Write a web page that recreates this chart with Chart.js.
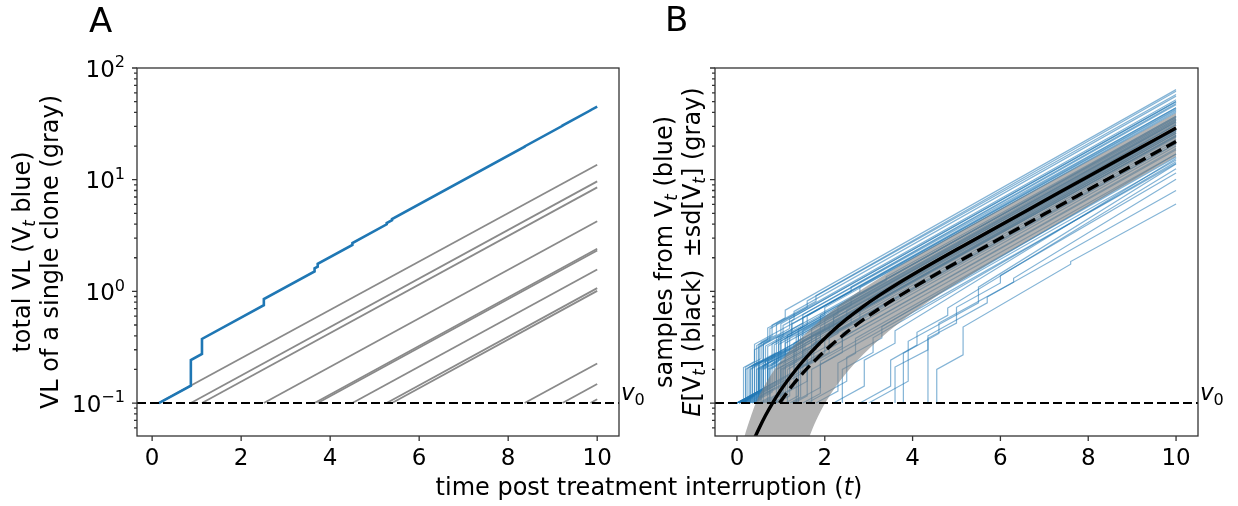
<!DOCTYPE html>
<html>
<head>
<meta charset="utf-8">
<script src="https://cdn.jsdelivr.net/npm/chart.js@4.4.1/dist/chart.umd.min.js"></script>
<style>
  html, body { margin: 0; padding: 0; background: #fff; }
  #wrap { position: relative; width: 1238px; height: 506px; }
  #wrap canvas { position: absolute; left: 0; top: 0; }
</style>
</head>
<body>
<div id="wrap">
  <canvas id="chartA" width="1238" height="506"></canvas>
  <canvas id="chartB" width="1238" height="506"></canvas>
</div>
<script>
// axes
const v0 = 0.1;
const tEnd = 10;
const yMin = 0.0507, yMax = 100;
const xRangeA = [-0.34, 10.49];
const xRangeB = [-0.5, 10.5];
const xTicks = [0, 2, 4, 6, 8, 10];
const yTickExps = [-1, 0, 1, 2];

// panel A: single clones (gray), start time at v0 and value at t = 10
const cloneStarts = [0.15, 0.87, 1.12, 2.51, 3.65, 3.72, 4.50, 5.27, 5.39, 8.37, 9.22, 9.85];
const cloneEnds = [13.6, 9.66, 8.53, 4.24, 2.41, 2.32, 1.57, 1.07, 1.01, 0.226, 0.148, 0.108];

// panel A: total VL (blue step line)
const totalTimes = [0.15, 0.87, 0.87, 1.12, 1.12, 2.51, 2.51, 3.65, 3.65, 3.72, 3.72, 4.50, 4.50,
  5.27, 5.27, 5.39, 5.39, 8.37, 8.37, 9.22, 9.22, 9.85, 9.85, 10];
const totalValues = [0.1, 0.143, 0.243, 0.275, 0.375, 0.752, 0.852, 1.508, 1.608, 1.665, 1.765, 2.609, 2.709,
  3.985, 4.085, 4.338, 4.438, 19.74, 19.84, 30.37, 30.47, 41.78, 41.88, 45.15];

// panel B: E[V_t] (solid) and the dashed curve
const meanTimes = [0.38, 0.5, 0.65, 0.81, 1.0, 1.35, 1.7, 2.11, 2.5, 2.87, 3.25, 3.63, 4.39, 5.15, 6, 7, 8, 9, 10];
const meanValues = [0.0466, 0.059, 0.0773, 0.1, 0.1312, 0.201, 0.289, 0.4175, 0.5665, 0.7316, 0.9267, 1.153,
  1.73, 2.552, 3.917, 6.47, 10.69, 17.6, 29.0];
const dashTimes = [0.97, 1.2, 1.5, 1.8, 2.11, 2.5, 2.87, 3.25, 3.63, 4.39, 5.15, 6, 7, 8, 9, 10];
const dashValues = [0.1, 0.1338, 0.1851, 0.2457, 0.32, 0.4303, 0.5557, 0.704, 0.876, 1.322, 1.949, 2.987,
  4.92, 8.11, 13.37, 22.0];

// panel B: E +- sd band
const bandTimes = [0.1, 0.17, 0.3, 0.43, 0.6, 0.81, 1.0, 1.35, 1.5, 1.65, 1.8, 2.03, 2.5, 3.25, 4.09, 5, 6, 7, 8, 9, 10];
const bandUpper = [0.038, 0.05, 0.0724, 0.1, 0.1368, 0.1882, 0.2383, 0.3454, 0.395, 0.452, 0.508, 0.6086, 0.842,
  1.319, 2.07, 3.30, 5.45, 8.97, 14.7, 24.1, 39.6];
const bandLower = [0.02, 0.02, 0.02, 0.02, 0.02, 0.02, 0.02, 0.0224, 0.0342, 0.05, 0.0694, 0.1033, 0.1873,
  0.3737, 0.6808, 1.174, 2.04, 3.46, 5.81, 9.69, 16.1];

// panel B: sample paths of V_t, [t, value] vertices
const samplePaths = [
  [[0.05,0.1],[0.35,0.116],[0.35,0.216],[0.6,0.245],[0.6,0.345],[1.2,0.466],[1.2,0.566],[10,50]],
  [[0.08,0.1],[0.5,0.123],[0.5,0.223],[1.0,0.286],[1.0,0.386],[10,36]],
  [[0.1,0.1],[0.3,0.11],[0.3,0.21],[0.45,0.227],[0.45,0.327],[0.9,0.409],[0.9,0.509],[1.6,0.722],[1.6,0.822],[10,58]],
  [[0.15,0.1],[0.9,0.146],[0.9,0.246],[10,25]],
  [[0.05,0.1],[0.45,0.122],[0.45,0.222],[1.4,0.357],[1.4,0.457],[2.0,0.617],[2.0,0.717],[10,41]],
  [[0.2,0.1],[0.7,0.128],[0.7,0.228],[1.1,0.279],[1.1,0.379],[10,33]],
  [[0.1,0.1],[0.4,0.116],[0.4,0.216],[10,28]],
  [[0.3,0.1],[0.6,0.116],[0.6,0.216],[0.8,0.239],[0.8,0.339],[1.5,0.481],[1.5,0.581],[10,44]],
  [[0.05,0.1],[1.3,0.187],[1.3,0.287],[10,24]],
  [[0.4,0.1],[0.55,0.108],[0.55,0.208],[1.0,0.26],[1.0,0.36],[1.25,0.408],[1.25,0.508],[10,42]],
  [[0.12,0.1],[0.25,0.107],[0.25,0.207],[0.5,0.235],[0.5,0.335],[0.7,0.37],[0.7,0.47],[1.8,0.815],[1.8,0.915],[10,62]],
  [[0.6,0.1],[1.05,0.125],[1.05,0.225],[1.7,0.311],[1.7,0.411],[10,28]],
  [[0.05,0.1],[0.6,0.132],[0.6,0.232],[2.2,0.516],[2.2,0.616],[10,32]],
  [[0.9,0.1],[1.2,0.116],[1.2,0.216],[1.5,0.251],[1.5,0.351],[10,26]],
  [[0.25,0.1],[0.85,0.135],[0.85,0.235],[1.35,0.302],[1.35,0.402],[2.6,0.751],[2.6,0.851],[10,36]],
  [[1.1,0.1],[1.4,0.116],[1.4,0.216],[10,17]],
  [[0.5,0.1],[0.75,0.113],[0.75,0.213],[0.95,0.235],[0.95,0.335],[10,31]],
  [[1.3,0.1],[1.6,0.116],[1.6,0.216],[2.4,0.322],[2.4,0.422],[10,20]],
  [[0.7,0.1],[1.6,0.157],[1.6,0.257],[10,19]],
  [[0.35,0.1],[0.5,0.108],[0.5,0.208],[0.65,0.224],[0.65,0.324],[1.05,0.396],[1.05,0.496],[1.3,0.562],[1.3,0.662],[10,56]],
  [[1.5,0.1],[1.9,0.122],[1.9,0.222],[10,14]],
  [[0.8,0.1],[1.0,0.11],[1.0,0.21],[1.9,0.33],[1.9,0.43],[3.0,0.745],[3.0,0.845],[10,29]],
  [[0.15,0.1],[1.5,0.196],[1.5,0.296],[2.1,0.4],[2.1,0.5],[10,27]],
  [[1.2,0.1],[1.45,0.113],[1.45,0.213],[2.0,0.281],[2.0,0.381],[2.8,0.568],[2.8,0.668],[10,26]],
  [[1.8,0.1],[2.3,0.128],[2.3,0.228],[2.7,0.279],[2.7,0.379],[10,16]],
  [[0.0,0.1],[0.9,0.157],[0.9,0.257],[1.5,0.347],[1.5,0.447],[10,33]],
  [[0.0,0.1],[0.2,0.11],[0.2,0.21],[0.55,0.251],[0.55,0.351],[0.8,0.398],[0.8,0.498],[1.1,0.579],[1.1,0.679],[10,64]],
  [[0.45,0.1],[0.45,0.2],[1.2,0.29],[1.2,0.39],[10,34]],
  [[0.6,0.1],[0.6,0.2],[1.4,0.3],[1.4,0.4],[2.3,0.63],[2.3,0.73],[10,37]],
  [[0.75,0.1],[0.75,0.2],[10,22]],
  [[0.9,0.1],[0.9,0.2],[1.3,0.244],[1.3,0.344],[10,29]],
  [[1.0,0.1],[1.0,0.2],[1.8,0.3],[1.8,0.4],[10,26]],
  [[0.3,0.1],[0.3,0.2],[0.5,0.221],[0.5,0.321],[1.0,0.412],[1.0,0.512],[10,50]],
  [[0.55,0.1],[0.55,0.2],[0.85,0.232],[0.85,0.332],[10,35]],
  [[1.15,0.1],[1.15,0.2],[1.55,0.244],[1.55,0.344],[2.2,0.475],[2.2,0.575],[10,31]],
  [[0.05,0.1],[0.7,0.138],[0.7,0.238],[2.5,0.584],[2.5,0.684],[10,31]],
  [[0.1,0.1],[1.0,0.157],[1.0,0.257],[1.7,0.365],[1.7,0.465],[10,33]],
  [[0.2,0.1],[0.5,0.116],[0.5,0.216],[2.0,0.458],[2.0,0.558],[10,34]],
  [[0.0,0.1],[1.7,0.234],[1.7,0.334],[10,23]],
  [[0.65,0.1],[1.3,0.138],[1.3,0.238],[1.5,0.263],[1.5,0.363],[10,27]],
  [[1.4,0.1],[1.4,0.2],[2.1,0.284],[2.1,0.384],[10,21]],
  [[0.15,0.1],[0.35,0.11],[0.35,0.21],[0.6,0.238],[0.6,0.338],[0.75,0.364],[0.75,0.464],[10,52]],
  [[0.4,0.1],[0.4,0.3],[1.5,0.52],[1.5,0.62],[10,47]],
  [[1.7,0.1],[1.7,0.2],[2.4,0.284],[2.4,0.384],[10,18.5]],
  [[0.25,0.1],[1.6,0.196],[1.6,0.296],[2.3,0.42],[2.3,0.52],[10,27]],
  [[1.25,0.1],[1.9,0.138],[1.9,0.238],[10,15]],
  [[0.5,0.1],[0.5,0.2],[0.7,0.221],[0.7,0.321],[1.6,0.503],[1.6,0.603],[10,43]],
  [[2.4,0.1],[2.4,0.2],[3.1,0.284],[3.1,0.384],[10,14.5]],
  [[0.0,0.1],[0.15,0.108],[0.15,0.208],[0.4,0.236],[0.4,0.336],[2.6,1.0],[2.6,1.1],[10,48]],
  [[0.85,0.1],[1.1,0.113],[1.1,0.213],[1.8,0.302],[1.8,0.402],[10,25]],
  [[0.2,0.1],[0.2,0.2],[0.9,0.283],[0.9,0.383],[2.8,0.989],[2.8,1.089],[10,40]],
  [[0.35,0.1],[0.8,0.125],[0.8,0.225],[1.9,0.389],[1.9,0.489],[10,28]],
  [[0.0,0.1],[0.65,0.138],[0.65,0.238],[1.15,0.306],[1.15,0.406],[3.4,1.25],[3.4,1.35],[10,37]],
  [[0.7,0.1],[0.7,0.2],[1.1,0.244],[1.1,0.344],[1.9,0.513],[1.9,0.613],[10,35]],
  [[0.1,0.1],[0.7,0.135],[0.7,0.235],[10,24.5]],
  [[1.05,0.1],[1.05,0.2],[1.35,0.232],[1.35,0.332],[3.2,0.837],[3.2,0.937],[10,28]],
  [[0.3,0.1],[1.1,0.149],[1.1,0.249],[1.45,0.296],[1.45,0.396],[10,28.5]],
  [[0.55,0.1],[0.95,0.122],[0.95,0.222],[2.6,0.506],[2.6,0.606],[10,24.5]],
  [[0.0,0.1],[0.5,0.128],[0.5,0.228],[0.95,0.285],[0.95,0.385],[1.25,0.447],[1.25,0.547],[10,44]],
  [[1.35,0.1],[1.35,0.2],[1.75,0.244],[1.75,0.344],[10,21]],
  [[4.55,0.1],[4.55,0.2],[5.15,0.27],[5.15,0.48],[7.6,1.75],[7.6,1.85],[10,6.05]],
  [[3.6,0.1],[3.6,0.21],[4.35,0.3],[4.35,0.4],[5.7,0.79],[5.7,0.89],[10,8]],
  [[3.79,0.1],[3.79,0.28],[4.6,0.42],[4.6,0.52],[6.3,1.21],[6.3,1.31],[10,10.1]],
  [[4.35,0.1],[4.35,0.38],[5.0,0.52],[5.0,0.72],[6.0,1.19],[6.0,1.39],[10,11.5]],
  [[2.8,0.1],[3.5,0.142],[3.5,0.242],[4.1,0.33],[4.1,0.43],[4.8,0.61],[4.8,0.71],[10,12.5]],
  [[3.0,0.1],[3.9,0.157],[3.9,0.357],[5.5,0.79],[5.5,1.09],[10,13.8]],
  [[2.2,0.1],[2.9,0.142],[2.9,0.242],[3.6,0.343],[3.6,0.443],[10,15.5]],
  [[1.6,0.1],[2.5,0.157],[2.5,0.257],[3.3,0.383],[3.3,0.483],[10,17]]
];

// texts
const titleA = [
  [{t: 'total VL (V'}, {t: 't', sub: true, it: true}, {t: ' blue)'}],
  [{t: 'VL of a single clone (gray)'}]
];
const titleB = [
  [{t: 'samples from V'}, {t: 't', sub: true, it: true}, {t: ' (blue)'}],
  [{t: 'E', it: true}, {t: '[V'}, {t: 't', sub: true, it: true}, {t: '] (black) \u2009\u00b1sd[V'},
   {t: 't', sub: true, it: true}, {t: '] (gray)'}]
];
const xTitle = [{t: 'time post treatment interruption ('}, {t: 't', it: true}, {t: ')'}];
const v0Label = [{t: 'v', it: true}, {t: '0', sub: true}];

const FONT = '"DejaVu Sans", "Liberation Sans", sans-serif';

function segFont(s, size) {
  const sz = (s.sub || s.sup) ? size * 0.7 : size;
  return (s.it ? 'italic ' : '') + sz.toFixed(1) + 'px ' + FONT;
}

function drawRich(ctx, segs, x, y, size, align) {
  let w = 0;
  segs.forEach(s => { ctx.font = segFont(s, size); w += ctx.measureText(s.t).width; });
  let cx = align === 'center' ? x - w / 2 : (align === 'right' ? x - w : x);
  ctx.textAlign = 'left';
  ctx.textBaseline = 'alphabetic';
  segs.forEach(s => {
    ctx.font = segFont(s, size);
    const dy = s.sub ? size * 0.22 : (s.sup ? -size * 0.4 : 0);
    ctx.fillText(s.t, cx, y + dy);
    cx += ctx.measureText(s.t).width;
  });
}

const panelDecor = {
  A: {letter: 'A', letterX: 89, letterY: 32, title: titleA, titleX: [30, 58], yLabels: true, xTitle: true},
  B: {letter: 'B', letterX: 665, letterY: 31, title: titleB, titleX: [672, 700], yLabels: false, xTitle: false}
};

// frame, ticks and all texts, placed through the chart scales
const decorPlugin = {
  id: 'decor',
  afterDraw(chart, args, opts) {
    const d = panelDecor[opts.panel];
    const ctx = chart.ctx;
    const a = chart.chartArea;
    const xs = chart.scales.x, ys = chart.scales.y;
    ctx.save();

    ctx.strokeStyle = '#333';
    ctx.lineWidth = 1.3;
    ctx.strokeRect(a.left, a.top, a.right - a.left, a.bottom - a.top);

    ctx.beginPath();
    xTicks.forEach(v => {
      const px = xs.getPixelForValue(v);
      ctx.moveTo(px, a.bottom);
      ctx.lineTo(px, a.bottom + 5);
    });
    for (let e = -2; e <= 2; e++) {
      for (let m = 1; m <= 9; m++) {
        const v = m * Math.pow(10, e);
        if (v < yMin || v > yMax * 1.0001) continue;
        const py = ys.getPixelForValue(v);
        ctx.moveTo(a.left, py);
        ctx.lineTo(a.left - (m === 1 ? 5 : 3), py);
      }
    }
    ctx.stroke();

    ctx.fillStyle = '#000';
    ctx.font = '23px ' + FONT;
    ctx.textAlign = 'center';
    ctx.textBaseline = 'alphabetic';
    xTicks.forEach(v => ctx.fillText(String(v), xs.getPixelForValue(v), a.bottom + 29));

    if (d.yLabels) {
      yTickExps.forEach(e => {
        const py = ys.getPixelForValue(Math.pow(10, e));
        const ex = e < 0 ? '\u2212' + (-e) : String(e);
        drawRich(ctx, [{t: '10'}, {t: ex, sup: true}], a.left - 12, py + 8.5, 23, 'right');
      });
    }

    // v0 label at the right edge
    drawRich(ctx, v0Label, a.right + 2, ys.getPixelForValue(v0) - 3, 23, 'left');

    // panel letter
    ctx.font = '34px ' + FONT;
    ctx.textAlign = 'left';
    ctx.fillText(d.letter, d.letterX, d.letterY);

    // y axis title, two rotated lines
    const cy = (a.top + a.bottom) / 2;
    d.title.forEach((segs, i) => {
      ctx.save();
      ctx.translate(d.titleX[i], cy);
      ctx.rotate(-Math.PI / 2);
      drawRich(ctx, segs, 0, 0, 24, 'center');
      ctx.restore();
    });

    if (d.xTitle) drawRich(ctx, xTitle, 649, 495, 24, 'center');
    ctx.restore();
  }
};

function pts(xs, ys) { return xs.map((x, i) => ({x: x, y: ys[i]})); }

function baseOptions(range, padding, panel) {
  return {
    responsive: false,
    animation: false,
    devicePixelRatio: 1,
    layout: {padding: padding},
    elements: {point: {radius: 0}, line: {fill: false}},
    plugins: {legend: {display: false}, tooltip: {enabled: false}, decor: {panel: panel}},
    scales: {
      x: {type: 'linear', min: range[0], max: range[1], bounds: 'data', display: false},
      y: {type: 'logarithmic', min: yMin, max: yMax, bounds: 'data', display: false}
    }
  };
}

const v0LineA = {data: [{x: xRangeA[0], y: v0}, {x: xRangeA[1], y: v0}],
  borderColor: '#000', borderWidth: 2, borderDash: [9, 4], order: 0, clip: 0};
const totalLine = {data: pts(totalTimes, totalValues), borderColor: '#1f77b4', borderWidth: 2.6, order: 1, clip: 0};
const cloneLines = cloneStarts.map((s, i) => ({
  data: [{x: s, y: v0}, {x: tEnd, y: cloneEnds[i]}],
  borderColor: '#8a8a8a', borderWidth: 1.8, order: 2, clip: 0
}));

new Chart(document.getElementById('chartA'), {
  type: 'line',
  data: {datasets: [v0LineA, totalLine].concat(cloneLines)},
  options: baseOptions(xRangeA, {left: 137, top: 68, right: 619, bottom: 70}, 'A'),
  plugins: [decorPlugin]
});

const v0LineB = {data: [{x: xRangeB[0], y: v0}, {x: xRangeB[1], y: v0}],
  borderColor: '#000', borderWidth: 2, borderDash: [9, 4], order: 0, clip: 0};
const meanLine = {data: pts(meanTimes, meanValues), borderColor: '#000', borderWidth: 3.4,
  cubicInterpolationMode: 'monotone', order: 1, clip: 0};
const dashLine = {data: pts(dashTimes, dashValues), borderColor: '#000', borderWidth: 3.4, borderDash: [12, 6],
  cubicInterpolationMode: 'monotone', order: 2, clip: 0};
const bandTop = {data: pts(bandTimes, bandUpper), borderWidth: 0, borderColor: 'rgba(0,0,0,0)',
  backgroundColor: 'rgba(128,128,128,0.6)', fill: '+1', cubicInterpolationMode: 'monotone', order: 3, clip: 0};
const bandBottom = {data: pts(bandTimes, bandLower), borderWidth: 0, borderColor: 'rgba(0,0,0,0)',
  fill: false, cubicInterpolationMode: 'monotone', order: 3, clip: 0};
const pathLines = samplePaths.map(p => ({
  data: p.map(q => ({x: q[0], y: q[1]})),
  borderColor: 'rgba(31,119,180,0.55)', borderWidth: 1.2, order: 4, clip: 0
}));

new Chart(document.getElementById('chartB'), {
  type: 'line',
  data: {datasets: [v0LineB, meanLine, dashLine, bandTop, bandBottom].concat(pathLines)},
  options: baseOptions(xRangeB, {left: 715, top: 68, right: 40, bottom: 70}, 'B'),
  plugins: [decorPlugin]
});
</script>
</body>
</html>
